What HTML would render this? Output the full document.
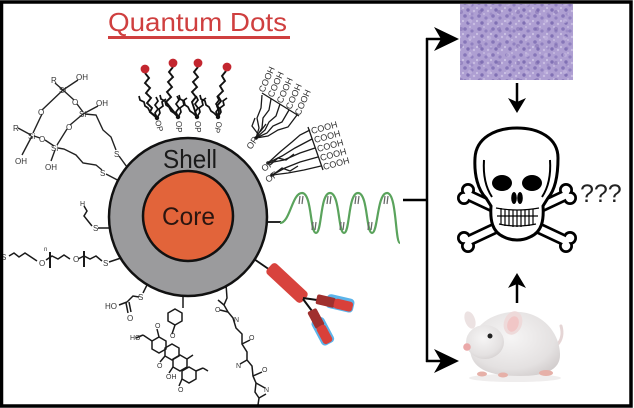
<!DOCTYPE html>
<html><head><meta charset="utf-8"><style>
html,body{margin:0;padding:0;background:#fff;}
svg{display:block;}
text{font-family:"Liberation Sans",Arial,sans-serif;}
</style></head><body>
<svg width="634" height="408" viewBox="0 0 634 408" xmlns="http://www.w3.org/2000/svg">
<defs>
<pattern id="tis" width="14" height="13" patternUnits="userSpaceOnUse">
<rect width="14" height="13" fill="#ae9fd2"/>
<circle cx="3" cy="3" r="1.8" fill="#8676b8"/>
<circle cx="10" cy="5" r="1.6" fill="#9080c0"/>
<circle cx="6" cy="10" r="1.7" fill="#8070b4"/>
<circle cx="12" cy="11" r="1.2" fill="#c8bde2"/>
<circle cx="1" cy="8" r="1.1" fill="#cbc1e4"/>
<circle cx="8" cy="1" r="1" fill="#c6bbe0"/>
</pattern>
<pattern id="tis2" width="19" height="17" patternUnits="userSpaceOnUse">
<circle cx="5" cy="12" r="2" fill="#7a68ae" opacity="0.45"/>
<circle cx="14" cy="4" r="2.2" fill="#c8bce2" opacity="0.5"/>
<circle cx="16" cy="14" r="1.5" fill="#8a7abc" opacity="0.45"/>
</pattern>
<radialGradient id="mg" cx="0.45" cy="0.4" r="0.7">
<stop offset="0" stop-color="#f6f5f5"/>
<stop offset="0.7" stop-color="#e4e1e1"/>
<stop offset="1" stop-color="#cfcaca"/>
</radialGradient>
</defs>
<rect width="634" height="408" fill="#fff"/>

<!-- Title -->
<text x="108" y="31" font-size="26" fill="#cf3f3f" textLength="179" lengthAdjust="spacingAndGlyphs">Quantum Dots</text>
<rect x="108" y="36" width="182" height="3" fill="#cf3f3f"/>

<!-- Siloxane -->
<g stroke="#222" stroke-width="1.4" fill="none">
<polyline points="55,83 63,90 78,80"/>
<line x1="63" y1="90" x2="42" y2="110"/>
<line x1="63" y1="90" x2="74" y2="100"/>
<line x1="77" y1="104" x2="83" y2="112"/>
<line x1="83" y1="114" x2="98" y2="106"/>
<line x1="83" y1="114" x2="70" y2="125"/>
<line x1="42" y1="114" x2="33" y2="133"/>
<line x1="18" y1="128" x2="31" y2="135"/>
<line x1="32" y1="136" x2="22" y2="155"/>
<line x1="34" y1="136" x2="40" y2="138"/>
<line x1="45" y1="140" x2="54" y2="146"/>
<line x1="67" y1="129" x2="57" y2="145"/>
<line x1="55" y1="150" x2="51" y2="161"/>
<polyline points="85,114 96,115 103,130 111,137 116,150"/>
<line x1="119" y1="156" x2="132" y2="174"/>
<polyline points="58,148 64,149 76,155 83,163 96,165 102,170"/>
<line x1="106" y1="174" x2="125" y2="184"/>
</g>
<g font-size="8" fill="#333">
<text x="51" y="83">R</text><text x="59" y="93">Si</text><text x="76" y="80">OH</text>
<text x="38" y="115">O</text><text x="72" y="105">O</text><text x="79" y="117">Si</text>
<text x="96" y="106">OH</text><text x="66" y="130">O</text><text x="13" y="131">R</text>
<text x="28" y="139">Si</text><text x="39" y="142">O</text><text x="51" y="151">Si</text>
<text x="15" y="164">OH</text><text x="45" y="170">OH</text><text x="114" y="157">S</text><text x="100" y="176">S</text>
</g>

<!-- Lipids -->
<g stroke="#111" stroke-width="1.9" fill="none">
<polyline points="145,73 149,78 145,83 150,88 146,93 151,98 147,103 152,108 150,112 157,118"/>
<polyline points="173,67 169,72 173,77 168,82 172,87 167,92 171,97 166,102 170,107 178,117"/>
<polyline points="198,67 194,72 198,77 193,82 197,87 192,92 196,97 192,102 194,108 197,117"/>
<polyline points="226,71 222,76 225,81 220,86 223,91 218,96 221,101 217,106 219,111 218,117"/>
</g>
<g id="tails" stroke="#111" stroke-width="1.7" fill="none">
<polyline points="157,118 153,114 150,112 148,108 145,106 144,102 140,100 139,96"/>
<polyline points="157,118 155,113 158,109 155,105 158,101 156,97"/>
<polyline points="157,118 160,113 159,109 163,106 162,102 166,99"/>
</g>
<use href="#tails" transform="translate(21,-1)"/>
<use href="#tails" transform="translate(40,-1)"/>
<use href="#tails" transform="translate(61,-1)"/>
<g fill="#111"><circle cx="157" cy="118" r="2.2"/><circle cx="178" cy="117" r="2.2"/><circle cx="197" cy="117" r="2.2"/><circle cx="218" cy="117" r="2.2"/></g>
<g fill="#c3262f"><circle cx="145" cy="69" r="4.4"/><circle cx="173" cy="63" r="4.4"/><circle cx="198" cy="63" r="4.4"/><circle cx="227" cy="67" r="4.4"/></g>
<g font-size="8" fill="#333">
<text transform="translate(155,121) rotate(75)">OP</text>
<text transform="translate(176,121) rotate(90)">OP</text>
<text transform="translate(195,121) rotate(90)">OP</text>
<text transform="translate(217,121) rotate(105)">OP</text>
</g>

<!-- COOH clusters -->
<g stroke="#1a1a1a" stroke-width="1.3" fill="none">
<line x1="262" y1="93" x2="299" y2="116"/>
<polyline points="256,138 259,128 257,118 261,108 262,95"/>
<polyline points="256,138 262,128 263,118 269,110 271,99"/>
<polyline points="256,138 265,130 269,122 276,116 280,104"/>
<polyline points="256,138 267,133 273,126 282,122 289,110"/>
<polyline points="256,138 268,136 278,130 288,127 297,115"/>
<polyline points="258,134 252,126 255,118"/>
<polyline points="260,132 266,124"/>
<line x1="308" y1="127" x2="323" y2="170"/>
<polyline points="268,163 280,152 292,142 300,135 310,130"/>
<polyline points="268,163 282,156 295,148 312,139"/>
<polyline points="268,163 284,160 300,153 315,148"/>
<polyline points="272,175 285,168 300,162 318,157"/>
<polyline points="272,175 288,173 304,170 321,166"/>
<polyline points="270,165 278,158 286,160 294,154"/>
<polyline points="274,174 282,168 290,171 298,166"/>
</g>
<g fill="#111"><circle cx="256" cy="138" r="1.8"/><circle cx="268" cy="163" r="1.8"/><circle cx="272" cy="175" r="1.8"/></g>
<g font-size="9" fill="#333">
<text transform="translate(264,93) rotate(-66)">COOH</text>
<text transform="translate(273,98) rotate(-66)">COOH</text>
<text transform="translate(282,104) rotate(-66)">COOH</text>
<text transform="translate(291,110) rotate(-66)">COOH</text>
<text transform="translate(300,116) rotate(-66)">COOH</text>
<text transform="translate(312,134) rotate(-15)">COOH</text>
<text transform="translate(315,143) rotate(-15)">COOH</text>
<text transform="translate(318,152) rotate(-15)">COOH</text>
<text transform="translate(321,161) rotate(-15)">COOH</text>
<text transform="translate(324,170) rotate(-15)">COOH</text>
<text transform="translate(251,150) rotate(-55)">OP</text>
<text transform="translate(264,172) rotate(-35)">OP</text>
<text transform="translate(268,183) rotate(-35)">OP</text>
</g>

<!-- Left / bottom ligands -->
<g stroke="#1a1a1a" stroke-width="1.5" fill="none">
<polyline points="9,256 14,253 19,257 25,253 31,257 37,261"/>
<polyline points="46,260 52,256 58,259 64,255 70,259"/>
<polyline points="78,259 84,256 90,259 96,256 102,261"/>
<line x1="109" y1="262" x2="124" y2="257"/>
<line x1="50" y1="252" x2="50" y2="268" stroke-width="2"/>
<line x1="84" y1="251" x2="84" y2="267" stroke-width="2"/>
<polyline points="84,206 87,211 84,216 88,221 92,226"/>
<line x1="98" y1="228" x2="114" y2="228"/>
<line x1="148" y1="283" x2="143" y2="293"/>
<polyline points="139,297 133,296 127,302"/>
<line x1="127" y1="302" x2="119" y2="305"/>
<line x1="126" y1="303" x2="128" y2="313"/>
<line x1="129" y1="302" x2="131" y2="312"/>
<line x1="183" y1="290" x2="183" y2="308"/>
<polygon points="175,309 182,313 182,321 175,325 168,321 168,313"/>
<line x1="175" y1="325" x2="172" y2="334"/>
<polygon points="159,337 166,341 166,349 159,353 152,349 152,341"/>
<polygon points="172,344 179,348 179,356 172,360 165,356 165,348"/>
<polygon points="180,355 187,359 187,367 180,371 173,367 173,359"/>
<polygon points="189,367 196,371 196,379 189,383 182,379 182,371"/>
<line x1="152" y1="341" x2="143" y2="335"/>
<line x1="143" y1="335" x2="136" y2="338"/>
<line x1="159" y1="337" x2="157" y2="329"/>
<line x1="165" y1="356" x2="160" y2="362"/>
<line x1="173" y1="367" x2="169" y2="373"/>
<line x1="182" y1="379" x2="179" y2="386"/>
<line x1="187" y1="359" x2="193" y2="355"/>
<line x1="196" y1="371" x2="203" y2="368"/>
<line x1="203" y1="368" x2="208" y2="371"/>
<polyline points="226,284 227,298 224,305 228,312 233,318 236,328 242,334 242,344 247,352 247,360 252,366 253,376 256,383 255,392 259,398 258,405"/>
<line x1="228" y1="312" x2="220" y2="310"/>
<line x1="224" y1="305" x2="218" y2="300"/>
<line x1="242" y1="344" x2="250" y2="340"/>
<line x1="247" y1="360" x2="240" y2="364"/>
<line x1="253" y1="376" x2="262" y2="372"/>
<line x1="256" y1="383" x2="265" y2="388"/>
<line x1="259" y1="398" x2="266" y2="394"/>
</g>
<g font-size="8" fill="#333">
<text x="1" y="260">S</text><text x="39" y="266">O</text><text x="73" y="262">O</text><text x="103" y="266">S</text>
<text x="44" y="251" font-size="6">n</text>
<text x="80" y="206" font-size="7">H</text><text x="93" y="231">S</text>
<text x="138" y="300">S</text><text x="105" y="309">HO</text><text x="127" y="321">O</text>
<text x="170" y="338" font-size="7">O</text><text x="130" y="340" font-size="7">HO</text>
<text x="155" y="328" font-size="7">O</text><text x="157" y="368" font-size="7">O</text>
<text x="166" y="379" font-size="7">OH</text><text x="178" y="392" font-size="7">O</text>
<text x="215" y="312" font-size="7">O</text><text x="234" y="322" font-size="7">N</text>
<text x="249" y="340" font-size="7">O</text><text x="236" y="368" font-size="7">N</text>
<text x="262" y="372" font-size="7">O</text><text x="264" y="392" font-size="7">N</text>
</g>

<!-- DNA -->
<line x1="265" y1="222" x2="281" y2="222" stroke="#111" stroke-width="1.8"/>
<path d="M280,223 C290,223 292,193 302,193 C312,193 310,233 316,233 C322,233 320,193 330,193 C340,193 338,233 344,233 C350,233 348,193 358,193 C368,193 366,233 372,233 C378,233 377,193 387,193 C397,193 395,243 400,243" fill="none" stroke="#5aa35c" stroke-width="2.2"/>
<g stroke="#666" stroke-width="1.2">
<line x1="300" y1="196" x2="299" y2="204"/><line x1="303" y1="196" x2="302" y2="204"/>
<line x1="313" y1="222" x2="312" y2="230"/><line x1="316" y1="222" x2="315" y2="230"/>
<line x1="328" y1="196" x2="327" y2="204"/><line x1="331" y1="196" x2="330" y2="204"/>
<line x1="341" y1="222" x2="340" y2="230"/><line x1="344" y1="222" x2="343" y2="230"/>
<line x1="356" y1="196" x2="355" y2="204"/><line x1="359" y1="196" x2="358" y2="204"/>
<line x1="369" y1="222" x2="368" y2="230"/><line x1="372" y1="222" x2="371" y2="230"/>
<line x1="385" y1="196" x2="384" y2="204"/><line x1="388" y1="196" x2="387" y2="204"/>
</g>

<!-- Antibody -->
<line x1="254" y1="259" x2="270" y2="270" stroke="#111" stroke-width="1.8"/>
<rect x="-24" y="-7" width="48" height="14" rx="4" fill="#d8433d" transform="translate(287,283) rotate(43)"/>
<g stroke="#111" stroke-width="2"><line x1="303" y1="298" x2="317" y2="300"/><line x1="303" y1="299" x2="312" y2="311"/></g>
<g transform="translate(334,303) rotate(13)">
<rect x="-8" y="-8" width="28" height="14" rx="4" fill="#5bb4ea"/>
<rect x="-18" y="-5" width="19" height="10" rx="2" fill="#a0302e"/>
<rect x="0" y="-5" width="19" height="10" rx="3" fill="#d9403a"/>
</g>
<g transform="translate(320,326) rotate(62)">
<rect x="-8" y="-7" width="28" height="14" rx="4" fill="#5bb4ea"/>
<rect x="-18" y="-5" width="19" height="10" rx="2" fill="#a0302e"/>
<rect x="0" y="-5" width="19" height="10" rx="3" fill="#d9403a"/>
</g>

<!-- Quantum dot -->
<circle cx="188" cy="217" r="79" fill="#9b9b9d" stroke="#111" stroke-width="2.5"/>
<circle cx="188" cy="216" r="45" fill="#e2643a" stroke="#111" stroke-width="2.5"/>
<text x="190" y="168" font-size="26" text-anchor="middle" textLength="54" lengthAdjust="spacingAndGlyphs" fill="#1a1a1a">Shell</text>
<text x="188.5" y="225" font-size="25" text-anchor="middle" textLength="53" lengthAdjust="spacingAndGlyphs" fill="#2a1510">Core</text>

<!-- Connectors -->
<g stroke="#000" stroke-width="2.5" fill="none">
<line x1="403" y1="200" x2="428" y2="200"/>
<line x1="427" y1="38" x2="427" y2="362"/>
<line x1="426" y1="39" x2="442" y2="39"/>
<line x1="426" y1="361" x2="442" y2="361"/>
<line x1="517" y1="83" x2="517" y2="104"/>
<line x1="517" y1="281" x2="517" y2="303"/>
</g>
<g fill="#000">
<polygon points="459,39 434,27 441,39 434,51"/>
<polygon points="459,361 434,349 441,361 434,373"/>
<polygon points="508,98 517,113 526,98 517,102"/>
<polygon points="508,288 517,273 526,288 517,284"/>
</g>

<!-- Tissue -->
<rect x="460" y="4" width="113" height="76" fill="url(#tis)"/>
<rect x="460" y="4" width="113" height="76" fill="url(#tis2)"/>

<!-- Skull and crossbones -->
<g stroke="#000" stroke-width="12" stroke-linecap="round">
<line x1="468" y1="195" x2="566" y2="241"/>
<line x1="566" y1="195" x2="468" y2="241"/>
</g>
<g fill="#000">
<circle cx="464" cy="198" r="7"/><circle cx="468" cy="190" r="7"/>
<circle cx="566" cy="246" r="7"/><circle cx="570" cy="238" r="7"/>
<circle cx="570" cy="198" r="7"/><circle cx="566" cy="190" r="7"/>
<circle cx="468" cy="246" r="7"/><circle cx="464" cy="238" r="7"/>
</g>
<g stroke="#fff" stroke-width="6.5" stroke-linecap="round">
<line x1="468" y1="195" x2="566" y2="241"/>
<line x1="566" y1="195" x2="468" y2="241"/>
</g>
<g fill="#fff">
<circle cx="464" cy="198" r="4.3"/><circle cx="468" cy="190" r="4.3"/>
<circle cx="566" cy="246" r="4.3"/><circle cx="570" cy="238" r="4.3"/>
<circle cx="570" cy="198" r="4.3"/><circle cx="566" cy="190" r="4.3"/>
<circle cx="468" cy="246" r="4.3"/><circle cx="464" cy="238" r="4.3"/>
</g>
<path d="M486,198 C478,190 474,175 475,158 C476,138 495,128 517,128 C539,128 558,138 558,158 C558,175 555,190 548,198 L543,206 C544,220 542,232 530,237 C522,241 512,241 504,237 C492,232 490,220 491,206 Z" fill="#fff" stroke="#000" stroke-width="3"/>
<g stroke="#000" stroke-width="2" fill="none">
<path d="M484,160 C483,175 486,188 492,197"/>
<path d="M550,160 C551,175 548,188 542,197"/>
</g>
<ellipse cx="502" cy="183" rx="10" ry="8" fill="#000"/>
<ellipse cx="532" cy="183" rx="10" ry="8" fill="#000"/>
<ellipse cx="514" cy="198" rx="2.8" ry="6" fill="#000"/>
<ellipse cx="520" cy="198" rx="2.8" ry="6" fill="#000"/>
<g stroke="#000" stroke-width="1.2" fill="none">
<path d="M496,208 Q517,212 539,208"/>
<line x1="497" y1="216" x2="538" y2="216"/>
<path d="M499,224 Q517,228 536,224"/>
<line x1="501" y1="208" x2="501" y2="225"/><line x1="505" y1="209" x2="505" y2="226"/>
<line x1="509" y1="210" x2="509" y2="226"/><line x1="513" y1="210" x2="513" y2="227"/>
<line x1="517" y1="210" x2="517" y2="227"/><line x1="521" y1="210" x2="521" y2="227"/>
<line x1="525" y1="210" x2="525" y2="226"/><line x1="529" y1="209" x2="529" y2="226"/>
<line x1="533" y1="209" x2="533" y2="225"/>
</g>
<text x="580" y="202" font-size="25" fill="#222">???</text>

<!-- Mouse -->
<ellipse cx="515" cy="378" rx="46" ry="4" fill="#efeded"/>
<path d="M557,345 C562,340 563,333 561,326" fill="none" stroke="#e5d5d5" stroke-width="3" stroke-linecap="round"/>
<path d="M470,350 C470,325 495,310 520,312 C545,314 560,335 560,355 C560,370 545,376 520,376 C495,376 472,372 470,350 Z" fill="url(#mg)"/>
<ellipse cx="485" cy="342" rx="19" ry="17" fill="url(#mg)"/>
<ellipse cx="470" cy="320" rx="5" ry="9" transform="rotate(-20 470 320)" fill="#ece2e2"/>
<ellipse cx="513" cy="323" rx="9" ry="12" transform="rotate(20 513 323)" fill="#eedada"/>
<ellipse cx="513" cy="324" rx="5.5" ry="8" transform="rotate(20 513 324)" fill="#f1c6c6"/>
<circle cx="490" cy="336" r="2.5" fill="#222"/>
<circle cx="467" cy="347" r="3.8" fill="#eaa8a8"/>
<ellipse cx="482" cy="374" rx="5" ry="2.5" fill="#e6b0a8"/>
<ellipse cx="503" cy="375" rx="5" ry="2.5" fill="#e6b0a8"/>
<ellipse cx="546" cy="373" rx="7" ry="3" fill="#e6b0a8"/>

<!-- Frame -->
<rect x="1.5" y="2" width="629.5" height="404" fill="none" stroke="#000" stroke-width="3.5"/>
</svg>
</body></html>
